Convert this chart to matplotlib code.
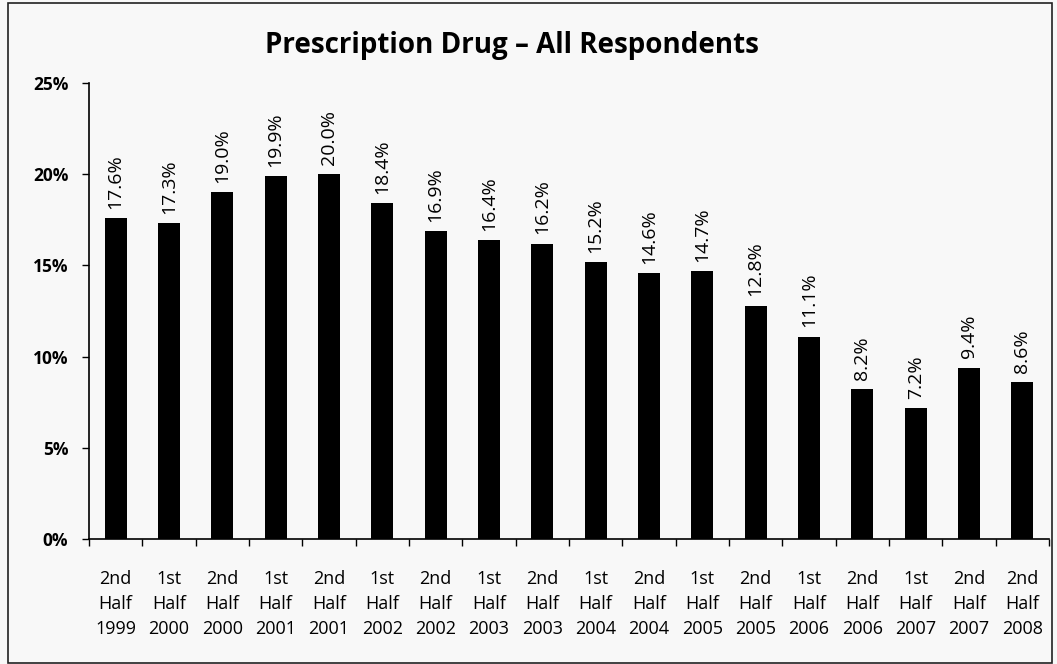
import matplotlib.pyplot as plt
from matplotlib.patches import Rectangle
from matplotlib.ticker import FixedLocator, FuncFormatter, MultipleLocator

plt.rcParams["font.family"] = ["Open Sans", "DejaVu Sans"]

periods = [
    "2nd\nHalf\n1999", "1st\nHalf\n2000", "2nd\nHalf\n2000", "1st\nHalf\n2001",
    "2nd\nHalf\n2001", "1st\nHalf\n2002", "2nd\nHalf\n2002", "1st\nHalf\n2003",
    "2nd\nHalf\n2003", "1st\nHalf\n2004", "2nd\nHalf\n2004", "1st\nHalf\n2005",
    "2nd\nHalf\n2005", "1st\nHalf\n2006", "2nd\nHalf\n2006", "1st\nHalf\n2007",
    "2nd\nHalf\n2007", "2nd\nHalf\n2008",
]
pct = [17.6, 17.3, 19.0, 19.9, 20.0, 18.4, 16.9, 16.4, 16.2, 15.2,
       14.6, 14.7, 12.8, 11.1, 8.2, 7.2, 9.4, 8.6]

fig = plt.figure(figsize=(10.57, 6.64), dpi=100, facecolor="#f8f8f8")
ax = fig.add_axes([0.0842, 0.1883, 0.9082, 0.6867])
ax.set_facecolor("#f8f8f8")

x = list(range(len(pct)))
ax.bar(x, pct, width=0.41, color="black")

for xi, v in zip(x, pct):
    ax.text(xi, v + 0.5, f"{v:.1f}%", rotation=90, ha="center", va="bottom",
            fontsize=14)

ax.set_xlim(-0.5, len(pct) - 0.5)
ax.set_ylim(0, 25)
ax.yaxis.set_major_locator(MultipleLocator(5))
ax.yaxis.set_major_formatter(FuncFormatter(lambda v, p: f"{v:.0f}%"))
ax.set_xticks(x)
ax.set_xticklabels(periods, fontsize=13, linespacing=1.5)
ax.xaxis.set_minor_locator(FixedLocator([i - 0.5 for i in range(len(pct) + 1)]))
ax.tick_params(axis="x", which="major", length=0, pad=22)
ax.tick_params(axis="x", which="minor", length=5, width=1, color="black")
ax.tick_params(axis="y", length=5, width=1, labelsize=12.5, pad=10)
for lbl in ax.get_yticklabels():
    lbl.set_fontweight("bold")

for side in ["top", "right"]:
    ax.spines[side].set_visible(False)
ax.spines["left"].set_linewidth(1.2)
ax.spines["bottom"].set_linewidth(1.2)

fig.text(0.484, 0.932, "Prescription Drug \u2013 All Respondents", ha="center",
         va="center", fontsize=20, fontweight="bold")

fig.patches.append(Rectangle((0.008, 0.002), 0.987, 0.994, transform=fig.transFigure,
                             fill=False, edgecolor="#222222", linewidth=1.2))

fig.savefig("out.png", dpi=100, facecolor=fig.get_facecolor())
